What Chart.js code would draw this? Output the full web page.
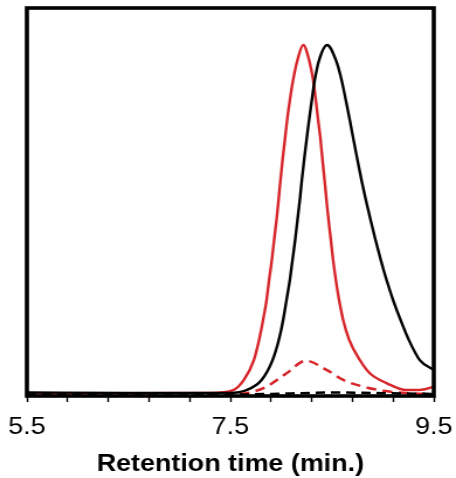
<!DOCTYPE html>
<html>
<head>
<meta charset="utf-8">
<script src="https://cdn.jsdelivr.net/npm/chart.js@4"></script>
<style>
  html, body { margin: 0; padding: 0; background: #fff; overflow: hidden; }
  /* lettering in the source figure is stretched sideways, so a 390px-wide bitmap is shown at 456px */
  #chromChart { display: block; width: 456px; height: 478px; }
</style>
</head>
<body>
<canvas id="chromChart" width="390" height="478" style="width:456px;height:478px"></canvas>
<script>
// x ticks (min) and which of them carry a label
const tickValues = [5.5, 5.9, 6.3, 6.7, 7.1, 7.5, 7.9, 8.3, 8.7, 9.1, 9.5];
const labeledTicks = [5.5, 7.5, 9.5];

// red solid trace
const redTime   = [5.5, 6.5, 7.3, 7.528, 7.633, 7.731, 7.783, 7.822, 7.856, 7.881, 7.908, 7.93, 7.954, 7.974, 7.993, 8.013, 8.036, 8.058, 8.085, 8.117, 8.16, 8.216,
                   8.274, 8.314, 8.34, 8.363, 8.387, 8.406, 8.426, 8.445, 8.465, 8.488, 8.51, 8.537, 8.569, 8.609, 8.668, 8.773, 8.871, 9.035, 9.232, 9.38, 9.5];
const redSignal = [0.002, 0.002, 0.003, 0.011, 0.040, 0.097, 0.155, 0.212, 0.269, 0.327, 0.384, 0.441, 0.499, 0.556, 0.613, 0.670, 0.728, 0.785, 0.842, 0.900, 0.957, 1.0,
                   0.957, 0.900, 0.842, 0.785, 0.728, 0.670, 0.613, 0.556, 0.499, 0.441, 0.384, 0.327, 0.269, 0.212, 0.155, 0.097, 0.059, 0.031, 0.011, 0.012, 0.021];

// black solid trace
const blackTime   = [5.5, 6.5, 7.495, 7.659, 7.807, 7.915, 7.977, 8.019, 8.052, 8.085, 8.111, 8.137, 8.16, 8.183, 8.203, 8.225, 8.249, 8.274, 8.301, 8.33, 8.373, 8.451,
                     8.537, 8.593, 8.635, 8.674, 8.711, 8.75, 8.789, 8.832, 8.878, 8.927, 8.979, 9.035, 9.1, 9.173, 9.254, 9.362, 9.5];
const blackSignal = [0.004, 0.003, 0.003, 0.011, 0.040, 0.097, 0.155, 0.212, 0.269, 0.327, 0.384, 0.441, 0.499, 0.556, 0.613, 0.670, 0.728, 0.785, 0.842, 0.900, 0.957, 1.0,
                     0.957, 0.900, 0.842, 0.785, 0.728, 0.670, 0.613, 0.556, 0.499, 0.441, 0.384, 0.327, 0.269, 0.212, 0.155, 0.097, 0.069];

// red dashed trace
const redDashTime   = [5.5, 6.5, 7.45, 7.692, 7.856, 8.052, 8.242, 8.445, 8.609, 8.805, 9.002, 9.264, 9.5];
const redDashSignal = [-0.005, -0.005, -0.003, 0.004, 0.021, 0.059, 0.095, 0.069, 0.040, 0.021, 0.009, 0.002, 0.0];

// black dashed trace
const blackDashTime   = [5.5, 7.5, 7.9, 8.3, 8.5, 8.8, 9.2, 9.5];
const blackDashSignal = [-0.002, -0.002, 0.0, 0.003, 0.004, 0.003, 0.001, 0.0];

const red = '#d7262b';

function toPoints(xs, ys) {
    return xs.map((x, i) => ({ x: x, y: ys[i] }));
}

// thick frame round the plot area
const framePlugin = {
    id: 'frame',
    afterDatasetsDraw(chart) {
        const a = chart.chartArea;
        const ctx = chart.ctx;
        ctx.save();
        ctx.strokeStyle = '#000';
        ctx.lineWidth = 3.6;
        ctx.strokeRect(a.left, a.top, a.right - a.left, a.bottom - a.top);
        ctx.restore();
    }
};

const ctx = document.getElementById('chromChart').getContext('2d');
new Chart(ctx, {
    type: 'line',
    data: {
        datasets: [
            {
                data: toPoints(blackDashTime, blackDashSignal),
                borderColor: '#000',
                borderWidth: 2.5,
                borderDash: [8, 5]
            },
            {
                data: toPoints(redDashTime, redDashSignal),
                borderColor: red,
                borderWidth: 2.5,
                borderDash: [8.5, 5.5]
            },
            {
                data: toPoints(blackTime, blackSignal),
                borderColor: '#000',
                borderWidth: 2.4
            },
            {
                data: toPoints(redTime, redSignal),
                borderColor: red,
                borderWidth: 2.4
            }
        ]
    },
    options: {
        responsive: false,
        maintainAspectRatio: false,
        animation: false,
        layout: {
            padding: { left: 23, right: 19, top: 8, bottom: 0 }
        },
        elements: {
            point: { radius: 0 },
            line: { cubicInterpolationMode: 'monotone', fill: false }
        },
        plugins: {
            legend: { display: false },
            tooltip: { enabled: false }
        },
        scales: {
            x: {
                type: 'linear',
                min: 5.5,
                max: 9.5,
                afterBuildTicks: (axis) => {
                    axis.ticks = tickValues.map(v => ({ value: v }));
                },
                afterFit: (axis) => {
                    // keep the plot edges where the layout padding puts them
                    axis.paddingLeft = 0;
                    axis.paddingRight = 0;
                    axis.height = 82;
                },
                grid: {
                    drawOnChartArea: false,
                    drawTicks: true,
                    tickLength: 6,
                    tickWidth: 1.4,
                    tickColor: '#000'
                },
                border: { display: false },
                ticks: {
                    autoSkip: false,
                    maxRotation: 0,
                    padding: 12,
                    color: '#000',
                    font: { family: 'Liberation Sans, Arial', size: 23 },
                    callback: (value) => labeledTicks.some(t => Math.abs(t - value) < 1e-6) ? value.toFixed(1) : ''
                },
                title: {
                    display: true,
                    text: 'Retention time (min.)',
                    color: '#000',
                    padding: { top: 0, bottom: 0 },
                    font: { family: 'Liberation Sans, Arial', size: 23, weight: 'bold' }
                }
            },
            y: {
                display: false,
                min: -0.006,
                max: 1.106
            }
        }
    },
    plugins: [framePlugin]
});
</script>
</body>
</html>
